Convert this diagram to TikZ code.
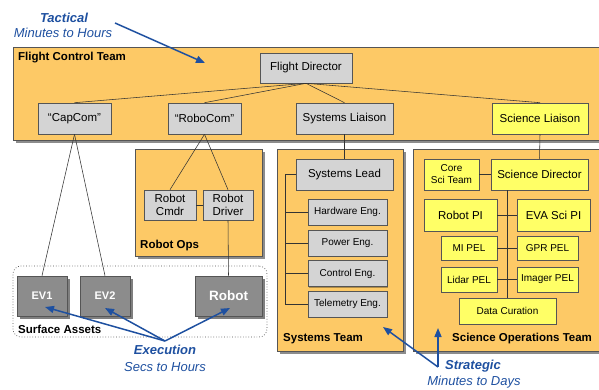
\documentclass[tikz,border=0pt]{standalone}
\usepackage{fontspec}
\setmainfont{Liberation Sans}
\usetikzlibrary{shadows,arrows.meta,calc}
\definecolor{teamorange}{RGB}{253,201,102}
\definecolor{boxgray}{RGB}{212,212,212}
\definecolor{boxyellow}{RGB}{255,255,102}
\definecolor{assetgray}{RGB}{140,140,140}
\definecolor{noteblue}{RGB}{30,80,160}
\definecolor{edgegray}{RGB}{85,85,85}
\begin{document}
\begin{tikzpicture}[x=1pt,y=-1pt,
  team/.style={draw=edgegray, fill=teamorange, line width=0.7pt, inner sep=0pt,
    drop shadow={shadow xshift=2.5pt, shadow yshift=-2.5pt, fill=black, opacity=0.45}},
  gbox/.style={draw=edgegray, fill=boxgray, line width=0.6pt, inner sep=0pt, align=center,
    font=\fontsize{11.5}{13}\selectfont,
    drop shadow={shadow xshift=1.2pt, shadow yshift=-1.2pt, fill=black, opacity=0.3}},
  ybox/.style={gbox, fill=boxyellow},
  dbox/.style={draw=edgegray, fill=assetgray, line width=0.6pt, inner sep=0pt, align=center,
    text=white, font=\bfseries\fontsize{11}{13}\selectfont,
    drop shadow={shadow xshift=2.5pt, shadow yshift=-2.5pt, fill=black, opacity=0.5}},
  small/.style={font=\fontsize{10}{12}\selectfont},
  teamlabel/.style={anchor=west, inner sep=0pt, font=\bfseries\fontsize{11.5}{13}\selectfont},
  link/.style={draw=black!80, line width=0.55pt},
  notearrow/.style={draw=noteblue, line width=1.5pt, -{Triangle[length=9pt,width=7pt]}},
  notehead/.style={text=noteblue, inner sep=0pt, font=\bfseries\itshape\fontsize{13}{15}\selectfont},
  notesub/.style={text=noteblue, inner sep=0pt, font=\itshape\fontsize{13}{15}\selectfont}
]
\useasboundingbox (0,0) rectangle (599,389);

% containers
\node[team, minimum width=627pt, minimum height=93pt] (fct) at (326.5,93.5) {};
\node[teamlabel] (fctl) at (18,58) {Flight Control Team};
\node[team, minimum width=127pt, minimum height=107pt] (rops) at (198.5,202.5) {};
\node[teamlabel] (ropsl) at (140,246) {Robot Ops};
\node[team, minimum width=126pt, minimum height=202pt] (systeam) at (340,250) {};
\node[teamlabel] (systeaml) at (283,339) {Systems Team};
\node[team, minimum width=237pt, minimum height=202pt] (sciops) at (531.5,250) {};
\node[teamlabel] (sciopsl) at (452,339) {Science Operations Team};
\node[draw=black!70, dotted, line width=0.7pt, rounded corners=8pt,
  minimum width=254pt, minimum height=71pt, inner sep=0pt] (surf) at (140,301.5) {};
\node[teamlabel] (surfl) at (18,329) {Surface Assets};

% flight control team
\node[gbox, minimum width=92pt, minimum height=30pt] (fd) at (306,68) {Flight Director};
\node[gbox, minimum width=73pt, minimum height=31pt] (capcom) at (74.5,118.5) {“CapCom”};
\node[gbox, minimum width=73pt, minimum height=31pt] (robocom) at (204.5,118.5) {“RoboCom”};
\node[gbox, minimum width=97pt, minimum height=31pt] (sysl) at (344.5,118.5) {Systems Liaison};
\node[ybox, minimum width=96pt, minimum height=31pt] (scil) at (540,118.5) {Science Liaison};

% robot ops
\node[gbox, minimum width=52pt, minimum height=30pt] (cmdr) at (170,205) {Robot\\Cmdr};
\node[gbox, minimum width=50pt, minimum height=30pt] (driver) at (228,205) {Robot\\Driver};

% systems team
\node[gbox, minimum width=97pt, minimum height=31pt] (slead) at (344.5,174.5) {Systems Lead};
\node[gbox, small, minimum width=79pt, minimum height=26pt] (hw) at (347.5,212) {Hardware Eng.};
\node[gbox, small, minimum width=79pt, minimum height=26pt] (pw) at (347.5,243) {Power Eng.};
\node[gbox, small, minimum width=79pt, minimum height=26pt] (ctl) at (347.5,273.5) {Control Eng.};
\node[gbox, small, minimum width=79pt, minimum height=26pt] (tel) at (347.5,304) {Telemetry Eng.};

% science operations team
\node[ybox, small, minimum width=55pt, minimum height=31pt] (core) at (451.5,174.5) {Core\\Sci Team};
\node[ybox, minimum width=97pt, minimum height=31pt] (sd) at (539.5,174.5) {Science Director};
\node[ybox, minimum width=73pt, minimum height=32pt] (rpi) at (460.5,215) {Robot PI};
\node[ybox, minimum width=73pt, minimum height=32pt] (eva) at (553.5,215) {EVA Sci PI};
\node[ybox, small, minimum width=56pt, minimum height=24pt] (mi) at (469,248) {MI PEL};
\node[ybox, small, minimum width=61pt, minimum height=24pt] (gpr) at (547.5,248) {GPR PEL};
\node[ybox, small, minimum width=56pt, minimum height=25pt] (lidar) at (469,279.5) {Lidar PEL};
\node[ybox, small, minimum width=61pt, minimum height=25pt] (imager) at (547.5,279.5) {Imager PEL};
\node[ybox, small, minimum width=97pt, minimum height=26pt] (dc) at (507.5,311) {Data Curation};

% surface assets
\node[dbox, minimum width=50pt, minimum height=40pt] (ev1) at (42,296) {EV1};
\node[dbox, minimum width=50pt, minimum height=40pt] (ev2) at (105,296) {EV2};
\node[dbox, font=\bfseries\fontsize{13.5}{15}\selectfont, minimum width=67pt, minimum height=40pt] (robot) at (228.5,296) {Robot};

% connectors
\draw[link] (fd.south) -- (capcom.north);
\draw[link] (fd.south) -- (robocom.north);
\draw[link] (fd.south) -- (sysl.north);
\draw[link] (fd.south) -- (scil.north);
\draw[link] (capcom.south) -- (ev1.north);
\draw[link] (capcom.south) -- (ev2.north);
\draw[link] (robocom.south) -- (cmdr.north);
\draw[link] (robocom.south) -- (driver.north);
\draw[link] (cmdr.east) -- (driver.west);
\draw[link] (driver.south) -- (robot.north);
\draw[link] (sysl.south) -- (slead.north);
\coordinate (spine) at ($(slead.west)+(-10,0)$);
\draw[link] (slead.west) -- (spine) |- (tel.west);
\draw[link] (spine) |- (hw.west);
\draw[link] (spine) |- (pw.west);
\draw[link] (spine) |- (ctl.west);
\draw[link] (scil.south) -- (sd.north);
\draw[link] (core.east) -- (sd.west);
\draw[link] (dc.north) -- (dc.north |- sd.south);
\draw[link] (rpi.east) -- (eva.west);
\draw[link] (mi.east) -- (gpr.west);
\draw[link] (lidar.east) -- (imager.west);

% notes
\node[notehead] (tac) at (64,18) {Tactical};
\node[notesub] (tacs) at (63,33) {Minutes to Hours};
\coordinate (tacfrom) at (115,23);
\coordinate (tacto) at (205,63);
\draw[notearrow] (tacfrom) -- (tacto);

\node[notehead] (exe) at (165,350) {Execution};
\node[notesub] (exes) at (165,367) {Secs to Hours};
\coordinate (exeapex) at (165,341);
\coordinate (exe1) at (45,307);
\coordinate (exe2) at (105,308);
\coordinate (exe3) at (230,308);
\draw[notearrow] (exeapex) -- (exe1);
\draw[notearrow] (exeapex) -- (exe2);
\draw[notearrow] (exeapex) -- (exe3);

\node[notehead] (str) at (473,366) {Strategic};
\node[notesub] (strs) at (474,382) {Minutes to Days};
\coordinate (strapex) at (438,367);
\coordinate (str1) at (383,327);
\coordinate (str2) at (438,328);
\draw[notearrow] (strapex) -- (str1);
\draw[notearrow] (strapex) -- (str2);
\end{tikzpicture}
\end{document}
